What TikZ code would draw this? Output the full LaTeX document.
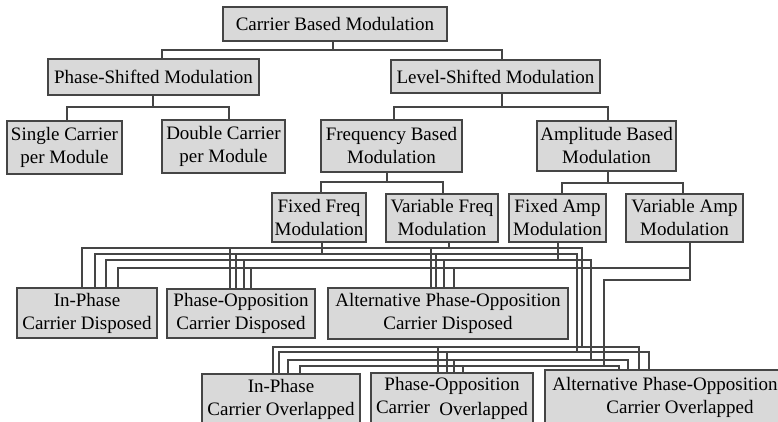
\documentclass[tikz,border=0pt]{standalone}
\usepackage{fontspec}
\setmainfont{Liberation Serif}
\definecolor{boxfill}{HTML}{D9D9D9}
\definecolor{wire}{HTML}{454545}
\begin{document}
\begin{tikzpicture}[x=1pt,y=-1pt,
  box/.style={draw=wire, line width=1.2pt, fill=boxfill, inner sep=0pt, align=center,
              font=\fontsize{19}{23}\selectfont},
  wirel/.style={draw=wire, line width=1.1pt}]
\useasboundingbox (0,0) rectangle (778,422);
\clip (0,0) rectangle (778,422);
\fill[white] (0,0) rectangle (778,422);

% ---------- boxes ----------
\node[box, minimum width=224, minimum height=34] (cbm) at (335,24) {Carrier Based Modulation};
\node[box, minimum width=211, minimum height=36] (psm) at (153.5,77) {Phase-Shifted Modulation};
\node[box, minimum width=209, minimum height=33] (lsm) at (495.5,76.5) {Level-Shifted Modulation};
\node[box, minimum width=115, minimum height=53] (sc) at (64.5,147.5) {Single Carrier\\per Module};
\node[box, minimum width=123, minimum height=53] (dc) at (223.5,146.5) {Double Carrier\\per Module};
\node[box, minimum width=141, minimum height=52] (fbm) at (391.5,146) {Frequency Based\\Modulation};
\node[box, minimum width=139, minimum height=50] (abm) at (606.5,146) {Amplitude Based\\Modulation};
\node[box, minimum width=94, minimum height=49] (ffm) at (319,217.5) {Fixed Freq\\Modulation};
\node[box, minimum width=112, minimum height=48] (vfm) at (442,218) {Variable Freq\\Modulation};
\node[box, minimum width=97, minimum height=48] (fam) at (557.5,218) {Fixed Amp\\Modulation};
\node[box, minimum width=117, minimum height=48] (vam) at (684.5,218) {Variable Amp\\Modulation};
\node[box, minimum width=140, minimum height=50] (ipd) at (87,313) {In-Phase\\Carrier Disposed};
\node[box, minimum width=148, minimum height=49] (pod) at (241,313.5) {Phase-Opposition\\Carrier Disposed};
\node[box, minimum width=240, minimum height=51] (apd) at (448,313.5) {Alternative Phase-Opposition\\Carrier Disposed};
\node[box, minimum width=158, minimum height=50] (ipo) at (281,399) {In-Phase\\Carrier Overlapped};
\node[box, minimum width=162, minimum height=51] (poo) at (452,398.5) {Phase-Opposition\\Carrier \ \raisebox{-2pt}{Overlapped}};
\node[box, minimum width=240, minimum height=54] (apo) at (665,397) {Alternative Phase-Opposition\\\hspace*{30pt}Carrier Overlapped};

% ---------- tree connectors ----------
\coordinate (t1) at (0,50);
\coordinate (t2) at (0,107);
\coordinate (t4) at (0,182);
\coordinate (t5) at (0,183);
\coordinate (cbm-s) at ([xshift=-2]cbm.south);
\coordinate (psm-n) at ([xshift=8.5]psm.north);
\coordinate (lsm-n) at ([xshift=6.5]lsm.north);
\coordinate (psm-s) at ([xshift=-0.5]psm.south);
\coordinate (sc-n) at ([xshift=2.5]sc.north);
\coordinate (dc-n) at ([xshift=5.5]dc.north);
\coordinate (lsm-s) at ([xshift=6.5]lsm.south);
\coordinate (fbm-n) at ([xshift=2.5]fbm.north);
\coordinate (abm-n) at ([xshift=1.5]abm.north);
\coordinate (fbm-s) at ([xshift=-4.5]fbm.south);
\coordinate (ffm-n) at ([xshift=2]ffm.north);
\coordinate (vfm-n) at ([xshift=1]vfm.north);
\coordinate (abm-s) at ([xshift=1.5]abm.south);
\coordinate (fam-n) at ([xshift=4.5]fam.north);
\coordinate (vam-n) at ([xshift=-1.5]vam.north);

\draw[wirel] (cbm-s) -- (cbm-s |- t1);
\draw[wirel] (psm-n) -- (psm-n |- t1) -| (lsm-n);
\draw[wirel] (psm-s) -- (psm-s |- t2);
\draw[wirel] (sc-n) -- (sc-n |- t2) -| (dc-n);
\draw[wirel] (lsm-s) -- (lsm-s |- t2);
\draw[wirel] (fbm-n) -- (fbm-n |- t2) -| (abm-n);
\draw[wirel] (fbm-s) -- (fbm-s |- t4);
\draw[wirel] (ffm-n) -- (ffm-n |- t4) -| (vfm-n);
\draw[wirel] (abm-s) -- (abm-s |- t5);
\draw[wirel] (fam-n) -- (fam-n |- t5) -| (vam-n);

% ---------- bus wiring ----------
\coordinate (B1) at (0,248);
\coordinate (B2) at (0,254);
\coordinate (B3) at (0,260);
\coordinate (B4) at (0,268);
\coordinate (k1) at (582,347);
\coordinate (k2) at (577,352);
\coordinate (k3) at (591,360);
\coordinate (k4) at (604,366);
\coordinate (jg) at (690,280);

\coordinate (ffm-s) at ([xshift=3]ffm.south);
\coordinate (vfm-s) at ([xshift=7]vfm.south);
\coordinate (fam-s) at ([xshift=0.5]fam.south);
\coordinate (vam-s) at ([xshift=5.5]vam.south);

\coordinate (ipd-a) at ([xshift=-5]ipd.north);
\coordinate (ipd-b) at ([xshift=8]ipd.north);
\coordinate (ipd-c) at ([xshift=19]ipd.north);
\coordinate (ipd-d) at ([xshift=31]ipd.north);
\coordinate (pod-a) at ([xshift=-11]pod.north);
\coordinate (pod-b) at ([xshift=-5]pod.north);
\coordinate (pod-c) at ([xshift=3]pod.north);
\coordinate (pod-d) at ([xshift=10]pod.north);
\coordinate (apd-a) at ([xshift=-17]apd.north);
\coordinate (apd-b) at ([xshift=-12]apd.north);
\coordinate (apd-c) at ([xshift=-4]apd.north);
\coordinate (apd-d) at ([xshift=6]apd.north);

\coordinate (ipo-a) at ([xshift=-8]ipo.north);
\coordinate (ipo-b) at ([xshift=-2]ipo.north);
\coordinate (ipo-c) at ([xshift=7]ipo.north);
\coordinate (ipo-d) at ([xshift=19]ipo.north);
\coordinate (poo-a) at ([xshift=-14]poo.north);
\coordinate (poo-b) at ([xshift=-5]poo.north);
\coordinate (poo-c) at ([xshift=2]poo.north);
\coordinate (poo-d) at ([xshift=11]poo.north);
\coordinate (apo-a) at ([xshift=-26]apo.north);
\coordinate (apo-b) at ([xshift=-16]apo.north);
\coordinate (apo-c) at ([xshift=-37]apo.north);
\coordinate (apo-d) at ([xshift=-46]apo.north);

% upper buses
\draw[wirel] (ipd-a) -- (ipd-a |- B1) -| (k1);
\draw[wirel] (ipd-b) -- (ipd-b |- B2) -| (k2);
\draw[wirel] (ipd-c) -- (ipd-c |- B3) -| (k3);
\draw[wirel] (ipd-d) -- (ipd-d |- B4) -| (vam-s);
\draw[wirel] (vam-s) -- (jg) -| (k4);
\draw[wirel] (vfm-s) -- (vfm-s |- B1);
\draw[wirel] (ffm-s) -- (ffm-s |- B2);
\draw[wirel] (fam-s) -- (fam-s |- B3);
\foreach \n/\b in {a/B1,b/B2,c/B3,d/B4}{
  \draw[wirel] (pod-\n) -- (pod-\n |- \b);
  \draw[wirel] (apd-\n) -- (apd-\n |- \b);
}
% lower buses
\draw[wirel] (ipo-a) -- (ipo-a |- k1) -| (apo-a);
\draw[wirel] (ipo-b) -- (ipo-b |- k2) -| (apo-b);
\draw[wirel] (ipo-c) -- (ipo-c |- k3) -| (apo-c);
\draw[wirel] (ipo-d) -- (ipo-d |- k4) -| (apo-d);
\draw[wirel] (poo-a) -- (poo-a |- k1);
\draw[wirel] (poo-b) -- (poo-b |- k2);
\draw[wirel] (poo-c) -- (poo-c |- k3);
\draw[wirel] (poo-d) -- (poo-d |- k4);
\end{tikzpicture}
\end{document}
